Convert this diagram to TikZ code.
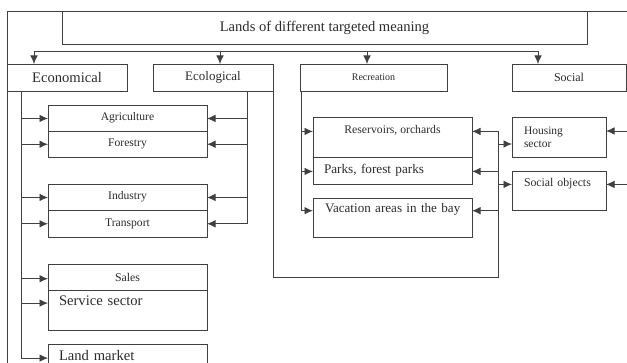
\documentclass[tikz,border=0pt]{standalone}
\usepackage{fontspec}
\setmainfont{Liberation Serif}
\usetikzlibrary{positioning,arrows.meta}
\definecolor{LineGray}{HTML}{404040}
\definecolor{TextGray}{HTML}{2B2B2B}

\begin{document}
\begin{tikzpicture}[x=1pt,y=-1pt,>={Latex[length=8.5pt,width=7.5pt]},
  fs/.style={font=\fontsize{#1}{13}\selectfont},
  lft/.style={align=left,text width=#1},
  textpos/.style 2 args={text height=#1,text depth=#2}]
\tikzstyle{box}=[rectangle,draw=LineGray,line width=.85pt,inner sep=0pt,outer sep=0pt,text=TextGray,align=center]
\tikzstyle{link}=[draw=LineGray,line width=.85pt]
\useasboundingbox (0,0) rectangle (627,363);
\clip (0,0) rectangle (627,363);
\draw[LineGray,line width=.85pt] (7,380) -- (7,11) -- (640,11);
% top level
\node[box,fs=14.6,minimum width=525,minimum height=33] (title) at (324.5,27.5) {Lands of different targeted meaning};
\node[box,fs=14.6,minimum width=120,minimum height=27] (econ) at (67,77.5) {Economical};
\node[box,fs=13,minimum width=120,minimum height=27,right=26pt of econ] (ecol) {Ecological};
\node[box,fs=10,minimum width=147,minimum height=27,right=27pt of ecol] (recr) {Recreation};
\node[box,fs=12,minimum width=114,minimum height=27,right=65pt of recr] (soc) {Social};
\coordinate (d1) at (34,51);
\coordinate (d2) at (220,51);
\coordinate (d3) at (367,51);
\coordinate (d4) at (538,51);
\draw[link] (d1) -- (d4);
\foreach \i/\n in {1/econ,2/ecol,3/recr,4/soc}
  \draw[link,->] (d\i) -- (d\i |- \n.north);
% economical and ecological
\node[box,fs=11.6,minimum width=159,minimum height=26] (agri) at (127.5,118) {Agriculture};
\node[box,fs=11.6,minimum width=159,minimum height=26,below=0pt of agri] (forest) {Forestry};
\node[box,fs=11.6,minimum width=159,minimum height=26] (ind) at (127.5,197) {Industry};
\node[box,fs=11.6,minimum width=159,minimum height=27,below=0pt of ind] (trans) {Transport};
\node[box,fs=11.8,minimum width=159,minimum height=26] (sales) at (127.5,277) {Sales};
\node[box,fs=14.6,minimum width=159,minimum height=40,inner xsep=11pt,lft=137pt,textpos={15.4pt}{24.6pt},below=0pt of sales] (serv) {Service sector};
\node[box,fs=14.6,minimum width=159,minimum height=40,inner xsep=11pt,lft=137pt,textpos={16.4pt}{23.6pt}] (land) at (127.5,364) {Land market};
\coordinate (et) at ([xshift=-46pt]econ.south);
\draw[link] (et) -- (et |- land.mid west);
\foreach \n in {agri,forest,ind,trans,sales,serv,land}
  \draw[link,->] (et |- \n.mid west) -- (\n.mid west);
\coordinate (ct) at ([xshift=-26pt]ecol.south east);
\draw[link] (ct) -- (ct |- trans.mid east);
\foreach \n in {agri,forest,ind,trans}
  \draw[link,->] (ct |- \n.mid east) -- (\n.mid east);
% recreation
\node[box,fs=11.7,minimum width=159,minimum height=40,textpos={16.7pt}{23.3pt}] (res) at (392.5,137) {Reservoirs, orchards};
\node[box,fs=13.2,minimum width=159,minimum height=27,inner xsep=11pt,lft=137pt,below=0pt of res] (parks) {Parks, forest parks};
\node[box,fs=13.1,minimum width=159,minimum height=39,inner xsep=10pt,lft=139pt,textpos={15pt}{24pt}] (vac) at (392.5,217.5) {\hspace*{2pt}Vacation areas in the bay};
\coordinate (rt) at ([xshift=1pt]recr.south west);
\draw[link] (rt) -- (rt |- vac.mid west);
\foreach \n in {res,parks,vac}
  \draw[link,->] (rt |- \n.mid west) -- (\n.mid west);
% social
\node[box,fs=11.5,minimum width=94,minimum height=40,inner xsep=12pt,lft=70pt] (hous) at (559,137) {Housing\\sector};
\node[box,fs=11.8,minimum width=94,minimum height=39,inner xsep=12pt,lft=70pt,textpos={15.7pt}{23.3pt}] (sobj) at (559,190.5) {Social objects};
% ecological to recreation and social
\coordinate (se) at (498,277);
\draw[link] (ecol.south east) |- (se) -- (se |- res.mid east);
\foreach \n in {res,parks,vac}
  \draw[link,->] (se |- \n.mid east) -- (\n.mid east);
\coordinate (hl) at ([yshift=-7pt]hous.west);
\draw[link,->] (se |- hl) -- (hl);
\draw[link,->] (se |- sobj.mid west) -- (sobj.mid west);
\coordinate (hin) at ([xshift=30pt,yshift=6pt]hous.east);
\coordinate (sin) at ([xshift=30pt]sobj.mid east);
\draw[link,->] (hin) -- (hin -| hous.east);
\draw[link,->] (sin) -- (sin -| sobj.east);
\end{tikzpicture}
\end{document}
